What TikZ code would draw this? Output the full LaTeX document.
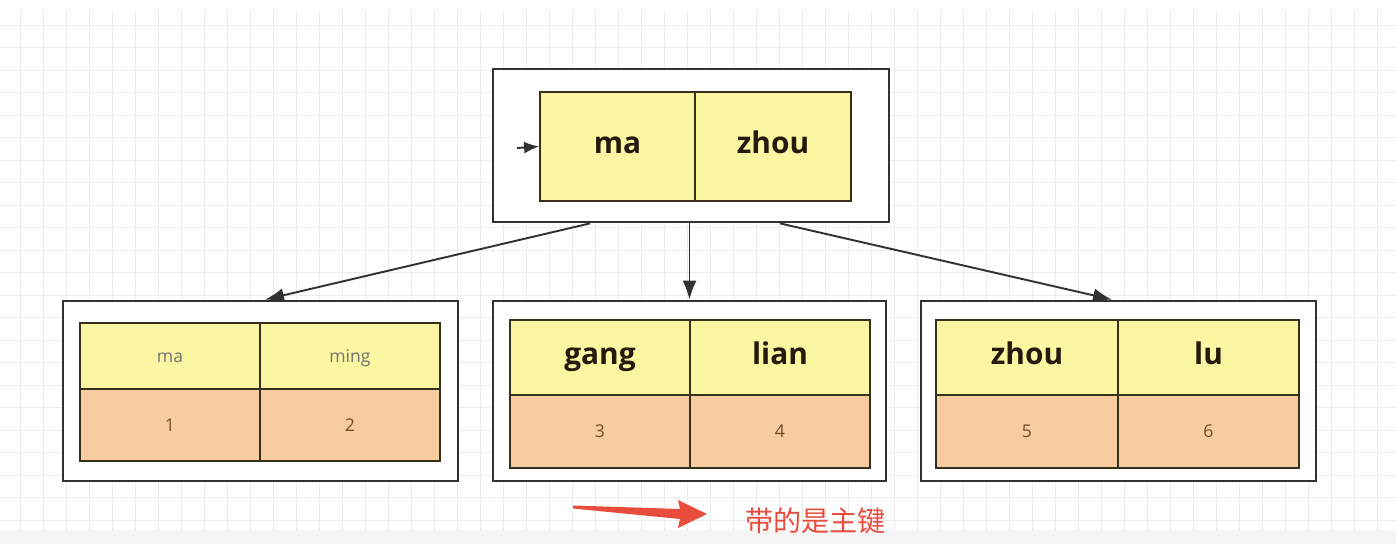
\documentclass[tikz,border=0pt]{standalone}
\usepackage{fontspec}
\usetikzlibrary{arrows.meta}
\setsansfont{Open Sans}
\newfontfamily\cjkfont{Noto Sans CJK SC}

\definecolor{keyyellow}{RGB}{252,246,162}
\definecolor{rowpeach}{RGB}{247,205,160}
\definecolor{boxline}{RGB}{50,50,50}
\definecolor{cellline}{RGB}{55,48,28}
\definecolor{marker}{RGB}{232,76,61}
\definecolor{gridgray}{RGB}{236,236,236}

\tikzset{
  page/.style={rectangle, draw=boxline, line width=1.6pt, fill=white, inner sep=0pt},
  keycell/.style={rectangle, draw=cellline, line width=1.1pt, fill=keyyellow, inner sep=0pt,
    text height=1.9ex, text depth=0.1ex,
    text=black!80!brown, font=\sffamily\bfseries\fontsize{17pt}{20pt}\selectfont},
  smallkey/.style={keycell, text=black!55, font=\sffamily\fontsize{10pt}{12pt}\selectfont},
  idcell/.style={rectangle, draw=cellline, line width=1.1pt, fill=rowpeach, inner sep=0pt,
    text=brown!60!black, font=\sffamily\fontsize{10pt}{12pt}\selectfont},
  link/.style={-{Latex[length=0.38cm,width=0.28cm]}, draw=boxline, line width=1.1pt},
  gridline/.style={draw=gridgray, line width=0.5pt}
}

\begin{document}
\begin{tikzpicture}[x=0.02cm, y=-0.02cm]
        \useasboundingbox (0,0) rectangle (1396,544);
        % background grid
        \foreach \gx in {20,43,...,1396}
          \draw[gridline] (\gx,10) -- (\gx,530);
        \foreach \gy in {25,47.5,...,530}
          \draw[gridline] (0,\gy) -- (1396,\gy);
        \fill[gray!8] (0,530) rectangle (1396,544);

        % root page
        \node[page, minimum width=7.92cm, minimum height=3.06cm] at (691,145.5) (root) {};
        \node[keycell, minimum width=3.1cm, minimum height=2.18cm] at (617.5,146.5) (rootma) {ma};
        \node[keycell, minimum width=3.12cm, minimum height=2.18cm] at (773,146.5) (rootzhou) {zhou};
        \coordinate (entry) at (517,148);
        \draw[link, -{Latex[length=0.3cm,width=0.24cm]}] (entry) -- (rootma.west);

        % leaf pages
        \node[page, minimum width=7.9cm, minimum height=3.6cm] at (260.5,391) (left) {};
        \node[smallkey, minimum width=3.6cm, minimum height=1.32cm] at (170,356) (leftma) {ma};
        \node[smallkey, minimum width=3.6cm, minimum height=1.32cm] at (350,356) (leftming) {ming};
        \node[idcell, minimum width=3.6cm, minimum height=1.44cm] at (170,425) (leftone) {1};
        \node[idcell, minimum width=3.6cm, minimum height=1.44cm] at (350,425) (lefttwo) {2};

        \node[page, minimum width=7.86cm, minimum height=3.6cm] at (689.5,391) (mid) {};
        \node[keycell, minimum width=3.6cm, minimum height=1.5cm] at (600,357.5) (midgang) {gang};
        \node[keycell, minimum width=3.6cm, minimum height=1.5cm] at (780,357.5) (midlian) {lian};
        \node[idcell, minimum width=3.6cm, minimum height=1.46cm] at (600,431.5) (midthree) {3};
        \node[idcell, minimum width=3.6cm, minimum height=1.46cm] at (780,431.5) (midfour) {4};

        \node[page, minimum width=7.9cm, minimum height=3.6cm] at (1118.5,391) (right) {};
        \node[keycell, minimum width=3.64cm, minimum height=1.5cm] at (1027,357.5) (rightzhou) {zhou};
        \node[keycell, minimum width=3.62cm, minimum height=1.5cm] at (1208.5,357.5) (rightlu) {lu};
        \node[idcell, minimum width=3.64cm, minimum height=1.46cm] at (1027,431.5) (rightfive) {5};
        \node[idcell, minimum width=3.62cm, minimum height=1.46cm] at (1208.5,431.5) (rightsix) {6};

        % pointers
        \draw[link] ([xshift=-2.02cm]root.south) -- ([xshift=0.09cm]left.north);
        \draw[link] (mid.north |- root.south) -- (mid.north);
        \draw[link] ([xshift=1.78cm]root.south) -- ([xshift=-0.13cm]right.north);

        % note
        \fill[marker] (573,505.5) -- (680,509) -- (678,500) -- (707,514) -- (678,528) -- (680,519) -- (573,508.5) -- cycle;
        \node[anchor=west, text=marker, font=\cjkfont\fontsize{16pt}{19pt}\selectfont, inner sep=0pt] at (745,521) (note) {带的是主键};
      \end{tikzpicture}
\end{document}
